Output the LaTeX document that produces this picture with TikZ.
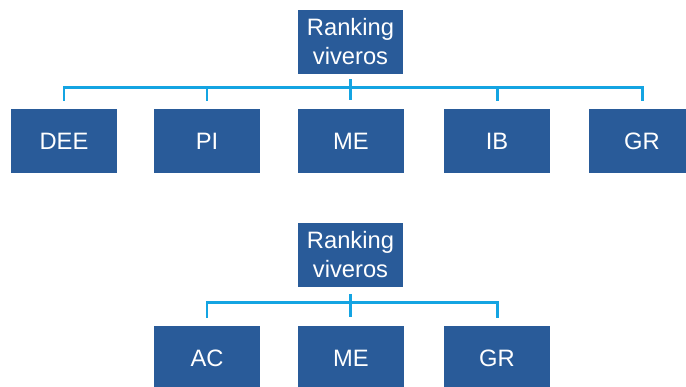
\documentclass[tikz,border=0pt]{standalone}
\usepackage{fontspec}
\setmainfont{Liberation Sans}
\usepackage{tikz}
\usetikzlibrary{calc}
\definecolor{rankblue}{RGB}{41,91,153}
\definecolor{linkcyan}{RGB}{20,164,226}

\begin{document}
\begin{tikzpicture}[x=0.02cm, y=-0.02cm,
                    %scale = 0.5,
                    rankrect/.style={rectangle, align = center,
                    fill = rankblue, text = white, font = \fontsize{13.5}{16.5}\selectfont,
                    inner sep = 0pt, minimum width = 2.12cm, minimum height = 1.28cm},
                    subrect/.style={rankrect},
                    linkline/.style={draw = linkcyan, line width = 1.7pt}]

                    \useasboundingbox (0,0) rectangle (686,386);
                    \clip (0,0) rectangle (686,386);

                    \node[rankrect] (rankA) at (350.5,42) {Ranking\\viveros};
                    \node[subrect] (dee) at (64,141) {DEE};
                    \node[subrect] (piA) at (207,141) {PI};
                    \node[subrect] (meA) at (351,141) {ME};
                    \node[subrect] (ib) at (497,141) {IB};
                    \node[subrect] (grA) at (642,141) {GR};

                    \draw[linkline] ($(dee.north)+(0,-8)$) -- ($(dee.north)+(0,-21)$) -- ($(grA.north)+(0,-21)$) -- ($(grA.north)+(0,-8)$);
                    \draw[linkline] ($(rankA.south)+(0,5)$) -- ($(rankA.south)+(0,26)$);
                    \draw[linkline] ($(piA.north)+(0,-8)$) -- ($(piA.north)+(0,-22)$);
                    \draw[linkline] ($(ib.north)+(0,-8)$) -- ($(ib.north)+(0,-22)$);

                    \node[rankrect] (rankB) at (350.5,254.5) {Ranking\\viveros};
                    \node[subrect] (ac) at (207,358) {AC};
                    \node[subrect] (meB) at (351,358) {ME};
                    \node[subrect] (grB) at (497,358) {GR};

                    \draw[linkline] ($(ac.north)+(0,-8)$) -- ($(ac.north)+(0,-23)$) -- ($(grB.north)+(0,-23)$) -- ($(grB.north)+(0,-8)$);
                    \draw[linkline] ($(rankB.south)+(0,7)$) -- ($(rankB.south)+(0,30)$);
\end{tikzpicture}
\end{document}
